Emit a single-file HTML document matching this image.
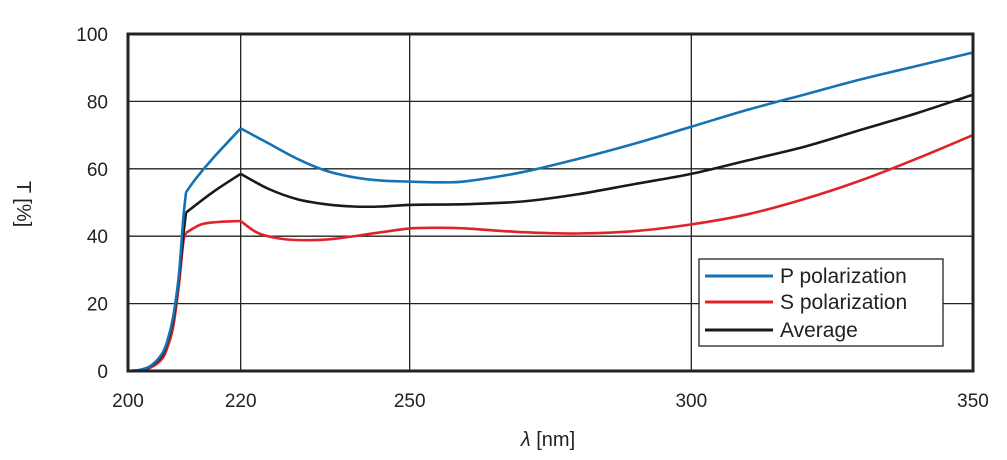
<!DOCTYPE html>
<html><head><meta charset="utf-8"><style>body{margin:0;background:#fff}svg{display:block}</style></head>
<body>
<svg id="chart" width="1007" height="460" xmlns="http://www.w3.org/2000/svg" font-family="Liberation Sans, sans-serif"></svg>
<script>
const xTicks=[200,220,250,300,350];
const yTicks=[0,20,40,60,80,100];
const pX=[200,202,204,206,207,208,209,209.8,210.3,212,215,220,225,230,235,240,245,250,255,260,270,280,290,300,310,320,330,340,350];
const pY=[0,0.3,1.5,5,9,16,28,45,53,57,63,72,67.5,63,59.5,57.5,56.5,56.2,56,56.3,59,63,67.5,72.5,77.5,82,86.5,90.5,94.5];
const aX=[200,202,204,206,207,208,209,209.8,210.3,215,220,225,230,235,240,245,250,260,270,280,290,300,310,320,330,340,350];
const aY=[0,0.3,1.4,4.5,8.5,15,27,40,47,53,58.5,54,51,49.5,48.8,48.8,49.3,49.5,50.3,52.5,55.5,58.5,62.5,66.5,71.5,76.5,82];
const sX=[200,202,204,206,207,208,209,209.8,210.3,213,216,220,223,227,232,237,245,250,255,260,270,280,290,300,310,320,330,340,350];
const sY=[0,0.2,1,3.5,7,13,25,38,41,43.5,44.2,44.5,41,39.3,38.8,39.3,41.2,42.3,42.5,42.3,41.2,40.8,41.5,43.5,46.5,51,56.5,63,70];
const kinks=[210.3,220];
const L=128,R=973,T=34,B=371;
const xs=v=>L+(v-200)/150*(R-L), ys=v=>B-v/100*(B-T);
const svg=document.getElementById('chart');const NS='http://www.w3.org/2000/svg';
function mk(t,a,txt){const e=document.createElementNS(NS,t);for(const k in a)e.setAttribute(k,a[k]);if(txt!==undefined)e.textContent=txt;svg.appendChild(e);return e;}
xTicks.forEach(v=>{if(v>200&&v<350){const g=mk('line',{x1:xs(v),x2:xs(v),y1:T,y2:B,stroke:'#222','stroke-width':1.3});}
const t=mk('text',{x:xs(v),y:407,'text-anchor':'middle','font-size':19,fill:'#222'},v);});
yTicks.forEach(v=>{if(v>0&&v<100){const g=mk('line',{x1:L,x2:R,y1:ys(v),y2:ys(v),stroke:'#222','stroke-width':1.3});}
const t=mk('text',{x:108,y:ys(v)+7,'text-anchor':'end','font-size':19,fill:'#222'},v);});
function smooth(pts){let d='M'+pts[0][0].toFixed(1)+' '+pts[0][1].toFixed(1);
for(let i=0;i<pts.length-1;i++){const p0=pts[i-1]||pts[i],p1=pts[i],p2=pts[i+1],p3=pts[i+2]||p2;const k=6;
const c1=[p1[0]+(p2[0]-p0[0])/k,p1[1]+(p2[1]-p0[1])/k],c2=[p2[0]-(p3[0]-p1[0])/k,p2[1]-(p3[1]-p1[1])/k];
d+=' C'+c1.map(v=>v.toFixed(1)).join(' ')+' '+c2.map(v=>v.toFixed(1)).join(' ')+' '+p2[0].toFixed(1)+' '+p2[1].toFixed(1);}return d;}
function line(X,Y,c,n){const segs=[[]];X.forEach((x,i)=>{const pt=[xs(x),ys(Y[i])];segs[segs.length-1].push(pt);if(kinks.includes(x)){segs.push([pt]);}});
const d=segs.filter(s=>s.length>1).map(smooth).join(' ');const p=mk('path',{d:d,fill:'none',stroke:c,'stroke-width':2.6,'stroke-linejoin':'round'});}
line(sX,sY,'#e0232b','s-polarization-line');
line(aX,aY,'#1a1a1a','average-line');
line(pX,pY,'#1673b3','p-polarization-line');
const f=mk('rect',{x:L,y:T,width:R-L,height:B-T,fill:'none',stroke:'#222','stroke-width':3});
const lg=mk('rect',{x:699,y:259,width:244,height:87,fill:'#fff',stroke:'#222','stroke-width':1.3});
[['P polarization','#1673b3',276],['S polarization','#e0232b',302],['Average','#1a1a1a',330]].forEach(([n,c,y])=>{
const l=mk('line',{x1:705,x2:773,y1:y,y2:y,stroke:c,'stroke-width':3});
const t=mk('text',{x:780,y:y+7,'font-size':21,fill:'#222'},n);});
const xt=mk('text',{x:548,y:446,'text-anchor':'middle','font-size':20,fill:'#222'});
xt.innerHTML='<tspan font-style="italic">λ</tspan>  [nm]';
const yt=mk('text',{x:0,y:0,'text-anchor':'middle','font-size':20,fill:'#222',transform:'translate(17,204) rotate(90)'},'T  [%]');
</script>
</body></html>
